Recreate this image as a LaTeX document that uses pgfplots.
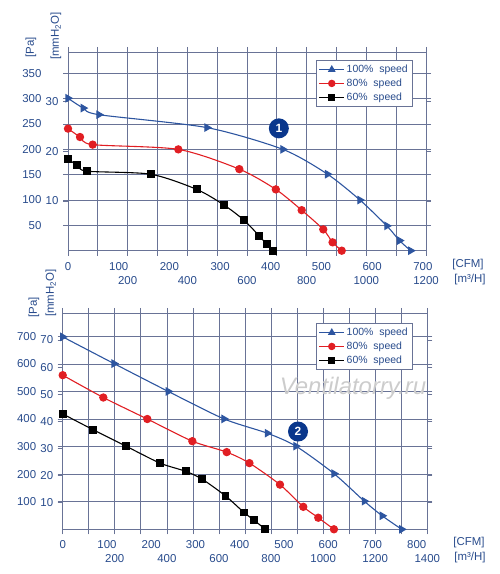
\documentclass[border=0pt]{standalone}
\usepackage{fontspec}
\setmainfont{Liberation Sans}
\usepackage{pgfplots}
\pgfplotsset{compat=1.18}
\usepackage{pgfplotstable}

\definecolor{tickblue}{RGB}{40,75,140}
\definecolor{gridc}{RGB}{105,115,150}
\definecolor{cblue}{RGB}{45,85,160}
\definecolor{cred}{RGB}{225,30,35}
\definecolor{badge}{RGB}{10,55,140}

% top chart, x in CFM, y in Pa
\pgfplotstableread{
cfm pa
0 301
30 281.5
61 268.5
274 243
424 200
512 151
576 100
629 49
654 20
676 0
}\topA
\pgfplotstableread{
cfm pa
0 241
23.7 224.4
48.7 209.4
217.6 200
338 161
410 121
461 80
503.6 42
522 16.5
540 0
}\topB
\pgfplotstableread{
cfm pa
0 180.5
18.3 168.7
37 157
163 151
254 121
308 90
347 60.4
377 29.5
392 12.6
405 0
}\topC
% bottom chart
\pgfplotstableread{
cfm pa
0 698
116 601
238.6 500
364.5 400.4
462.4 348.5
527 301.6
613 202
681.6 102
722 49
766 0
}\botA
\pgfplotstableread{
cfm pa
0 559
91.8 478
191.2 400
293 319.6
370.6 280
422 240
491 162
543.7 81.5
577.6 42
613 0
}\botB
\pgfplotstableread{
cfm pa
0 418.5
69 361
143 301.6
220 240
278.6 210
315.5 181.5
368 121
409.7 61
432 33.5
458 0
}\botC

\pgfplotsset{
  fanaxis/.style={
    scale only axis,
    xmin=0, ymin=0,
    axis line style={gridc, line width=0.8pt},
    grid=major,
    grid style={gridc, line width=0.7pt},
    tick style={gridc, line width=0.7pt},
    tick align=outside,
    major tick length=5bp,
    ticklabel style={font=\fontsize{11.5}{13}\selectfont, text=tickblue},
    /pgf/number format/assume math mode=true,
    yticklabel style={anchor=east, xshift=-18bp},
    extra y tick style={grid=none, yticklabel style={xshift=17bp}},
    xticklabel style={anchor=north, yshift=-17bp},
    extra x tick style={grid=none, major tick length=0pt, xticklabel style={yshift=9bp}},
    legend style={draw=gridc, fill=white, font=\fontsize{10.5}{12}\selectfont,
      text=tickblue, anchor=north west, inner sep=2.5bp, row sep=0.8bp,
      cells={anchor=west}},
    legend image code/.code={\draw[mark repeat=2,mark phase=2]
      plot coordinates {(0cm,0cm) (0.44cm,0cm) (0.88cm,0cm)};},
    every axis plot/.append style={line width=1.1pt, smooth, tension=0.45},
  }
}

\begin{document}
\begin{tikzpicture}[x=1bp,y=1bp]
\useasboundingbox (0,0) rectangle (500,574);

% ---------- top chart ----------
\begin{axis}[fanaxis,
  at={(68bp,323.3bp)}, anchor=south west,
  width=358bp, height=198.7bp,
  xmax=706.294, ymax=392.266,
  xtick={0,58.858,117.716,176.573,235.431,294.289,353.147,412.005,470.862,529.720,588.578,647.436,706.294},
  xticklabels={,,200,,400,,600,,800,,1000,,1200},
  extra x ticks={0,100,200,300,400,500,600,700},
  extra x tick labels={0,100,200,300,400,500,600,700},
  ytick={50,100,150,200,250,300,350},
  extra y ticks={98.0665,196.133,294.2},
  extra y tick labels={10,20,30},
  legend style={at={(0.693,0.958)}},
]
\addplot[cblue, mark=triangle*, mark size=4bp, mark options={rotate=-90}, forget plot] table[x=cfm,y=pa] {\topA};
\addplot[cred, mark=*, mark size=3.6bp, forget plot] table[x=cfm,y=pa] {\topB};
\addplot[black, mark=square*, mark size=3.4bp, forget plot] table[x=cfm,y=pa] {\topC};
\addlegendimage{cblue, line width=1pt, mark=triangle*, mark size=3.5bp}
\addlegendentry{100\%\ \ speed}
\addlegendimage{cred, line width=1pt, mark=*, mark size=3.2bp}
\addlegendentry{80\%\ \ speed}
\addlegendimage{black, line width=1pt, mark=square*, mark size=3bp}
\addlegendentry{60\%\ \ speed}
\node[circle, fill=badge, text=white, font=\bfseries\fontsize{12}{12}\selectfont,
  inner sep=0pt, minimum size=20bp] at (axis cs:416,241.5) {1};
\end{axis}

\node[tickblue, font=\fontsize{11.5}{13}\selectfont] at (468,574-265) {[CFM]};
\node[tickblue, font=\fontsize{11.5}{13}\selectfont] at (470,574-280) {[m³/H]};
\node[tickblue, font=\fontsize{11.5}{13}\selectfont, rotate=90, anchor=west, inner sep=0pt] at (31,574-58) {[Pa]};
\node[tickblue, font=\fontsize{11.5}{13}\selectfont, rotate=90, anchor=west, inner sep=0pt] at (56,574-60) {[mmH\textsubscript{2}O]};

% ---------- bottom chart ----------
\begin{axis}[fanaxis,
  at={(62.7bp,44.7bp)}, anchor=south west,
  width=364.6bp, height=216.3bp,
  xmax=824.009, ymax=784.532,
  xtick={0,58.858,117.716,176.573,235.431,294.289,353.147,412.005,470.862,529.720,588.578,647.436,706.294,765.151,824.009},
  xticklabels={,,200,,400,,600,,800,,1000,,1200,,1400},
  extra x ticks={0,100,200,300,400,500,600,700,800},
  extra x tick labels={0,100,200,300,400,500,600,700,800},
  ytick={100,200,300,400,500,600,700},
  extra y ticks={98.0665,196.133,294.2,392.266,490.33,588.4,686.47},
  extra y tick labels={10,20,30,40,50,60,70},
  legend style={at={(0.695,0.952)}},
]
\node[text=gray!40, font=\itshape\fontsize{24}{24}\selectfont] at (axis cs:656,513) {Ventilatorry.ru};
\addplot[cblue, mark=triangle*, mark size=4bp, mark options={rotate=-90}, forget plot] table[x=cfm,y=pa] {\botA};
\addplot[cred, mark=*, mark size=3.6bp, forget plot] table[x=cfm,y=pa] {\botB};
\addplot[black, mark=square*, mark size=3.4bp, forget plot] table[x=cfm,y=pa] {\botC};
\addlegendimage{cblue, line width=1pt, mark=triangle*, mark size=3.5bp}
\addlegendentry{100\%\ \ speed}
\addlegendimage{cred, line width=1pt, mark=*, mark size=3.2bp}
\addlegendentry{80\%\ \ speed}
\addlegendimage{black, line width=1pt, mark=square*, mark size=3bp}
\addlegendentry{60\%\ \ speed}
\node[circle, fill=badge, text=white, font=\bfseries\fontsize{12}{12}\selectfont,
  inner sep=0pt, minimum size=20bp] at (axis cs:531.8,354.6) {2};
\end{axis}

\node[tickblue, font=\fontsize{11.5}{13}\selectfont] at (469,574-543) {[CFM]};
\node[tickblue, font=\fontsize{11.5}{13}\selectfont] at (470,574-558) {[m³/H]};
\node[tickblue, font=\fontsize{11.5}{13}\selectfont, rotate=90, anchor=west, inner sep=0pt] at (34,574-318) {[Pa]};
\node[tickblue, font=\fontsize{11.5}{13}\selectfont, rotate=90, anchor=west, inner sep=0pt] at (51,574-317) {[mmH\textsubscript{2}O]};
\end{tikzpicture}
\end{document}
